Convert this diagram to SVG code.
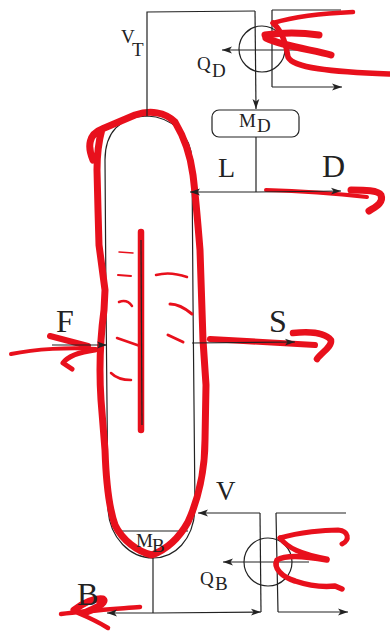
<svg xmlns="http://www.w3.org/2000/svg" width="390" height="632" viewBox="0 0 390 632">
<defs>
<marker id="ah" markerUnits="userSpaceOnUse" markerWidth="11" markerHeight="8" refX="10" refY="4" orient="auto"><path d="M0,0.6 L10,4 L0,7.4 L2.5,4 Z" fill="#222"/></marker>
</defs>
<style>
.k{fill:none;stroke:#222;stroke-width:1.2}
.a{marker-end:url(#ah)}
.r{fill:none;stroke:#e8101c;stroke-linecap:round;stroke-linejoin:round}
text{font-family:"Liberation Serif",serif;fill:#222}
.s{font-size:19px}
.b{font-size:32px}
.m{font-size:27px}
</style>
<rect width="390" height="632" fill="#fff"/>
<g id="column">
<path class="k" d="M147,116 C120,117 105,132 105,160 L106,300 L108,510 C110,538 130,558 153,558 C175,558 193,540 195,510 L193,300 L192,160 C191,135 172,117 147,116 Z"/>
<path class="k" d="M115,531 L188,531"/>
</g>
<g id="condenser">
<circle class="k" cx="262" cy="49" r="23"/>
<path class="k" d="M272,10 L341,10 M272,10 L272,87"/>
<path class="k a" d="M272,87 L342,87"/>
<path class="k a" d="M305,50 L222,50"/>
</g>
<g id="drum"><rect class="k" x="212" y="110" width="87" height="27" rx="7"/></g>
<g id="reboiler">
<circle class="k" cx="268" cy="562" r="24"/>
<path class="k" d="M276,513 L346,513 M276,513 L278,612"/>
<path class="k a" d="M278,612 L348,612"/>
<path class="k a" d="M309,562 L223,562"/>
</g>
<g id="ink">
<path class="r" stroke-width="7" d="M93,160 C87,146 89,134 102,129 L135,115 C150,110 165,112 175,122 C184,137 190,152 193,175 C196,200 198,225 200,250 L203,340 L206,385 L205,440 C205,470 198,500 188,522 C178,540 165,550 152,555 C138,552 122,540 115,525 C108,505 106,480 105,450 L101,400 C99,370 100,340 104,310 L105,290 L99,245 L98,210 L97,170 C97,150 99,140 102,129"/>
<path class="r" stroke-width="6.5" d="M141,232 L141,430"/>
<path class="r" stroke-width="1.5" d="M119,252 L133,253"/>
<path class="r" stroke-width="2" d="M118,275 L131,276"/>
<path class="r" stroke-width="2.5" d="M119,302 Q127,299 132,306"/>
<path class="r" stroke-width="2.5" d="M117,338 L140,346"/>
<path class="r" stroke-width="2.5" d="M111,373 Q118,380 131,380"/>
<path class="r" stroke-width="2.5" d="M156,275 Q170,271 187,277"/>
<path class="r" stroke-width="3" d="M170,304 Q180,304 192,314"/>
<path class="r" stroke-width="3" d="M168,335 L183,342"/>
<path class="r" stroke-width="4" d="M11,354 C35,349 70,347 96,349"/>
<path class="r" stroke-width="6" d="M50,336 L88,346"/>
<path class="r" stroke-width="5" d="M95,350 C80,352 68,356 63,363 L72,369"/>
<path class="r" stroke-width="6" d="M210,339 L315,345"/>
<path class="r" stroke-width="6.5" d="M293,333 C310,331 325,333 331,340 C332,347 322,352 317,359"/>
<path class="r" stroke-width="4" d="M266,190 C300,191 340,194 367,197"/>
<path class="r" stroke-width="7" d="M351,190 C365,190 378,190 381,195 C384,203 375,207 369,211"/>
<path class="r" stroke-width="4.5" d="M273,23 C300,15 330,13 353,12"/>
<path class="r" stroke-width="5.5" d="M273,23 C283,32 286,45 288,57 C293,68 330,72 389,74"/>
<path class="r" stroke-width="7" d="M265,35 C285,32 305,33 319,35"/>
<path class="r" stroke-width="7" d="M266,38 C285,47 315,50 331,55"/>
<path class="r" stroke-width="5" d="M280,538 C300,532 325,530 338,530 C349,531 350,540 342,544"/>
<path class="r" stroke-width="5" d="M280,538 C288,548 300,554 327,559"/>
<path class="r" stroke-width="5.5" d="M327,560 C305,556 285,555 277,560 C273,568 282,577 295,581 C310,586 325,587 335,586 L342,589"/>
<path class="r" stroke-width="4.5" d="M61,614 C85,611 115,609 140,607"/>
<path class="r" stroke-width="7" d="M74,610 C85,602 95,598 103,599 C108,603 92,610 84,613"/>
<path class="r" stroke-width="4.5" d="M78,613 C90,618 100,623 108,628"/>
</g>
<g id="connectors">
<path class="k" d="M147,116 L147,12 L255,11"/>
<path class="k a" d="M255,11 L256,109"/>
<path class="k" d="M256,137 L256,192"/>
<path class="k a" d="M256,192 L190,192"/>
<path class="k a" d="M256,192 L341,191"/>
<path class="k a" d="M52,345 L107,345"/>
<path class="k a" d="M192,343 L295,342"/>
<path class="k a" d="M260,513 L198,513"/>
<path class="k" d="M260,513 L261,612"/>
<path class="k" d="M153,558 L153,613"/>
<path class="k a" d="M153,613 L261,612"/>
<path class="k a" d="M153,613 L107,613"/>
<path class="k" d="M141,240 L142,425"/>
</g>
<g id="labels">
<text class="s" x="121" y="43">V</text><text class="s" x="132" y="56">T</text>
<text class="s" x="197" y="70">Q</text><text class="s" x="212" y="77">D</text>
<text class="s" x="239" y="127">M</text><text class="s" x="257" y="132">D</text>
<text x="218" y="177" style="font-size:28px">L</text>
<text class="b" x="322" y="177">D</text>
<text class="b" x="56" y="332">F</text>
<text class="b" x="269" y="332">S</text>
<text class="m" x="216" y="500">V</text>
<text class="s" x="200" y="585">Q</text><text class="s" x="215" y="590">B</text>
<text class="s" x="136" y="547">M</text><text class="s" x="152" y="552">B</text>
<text class="b" x="77" y="605">B</text>
</g>
</svg>
